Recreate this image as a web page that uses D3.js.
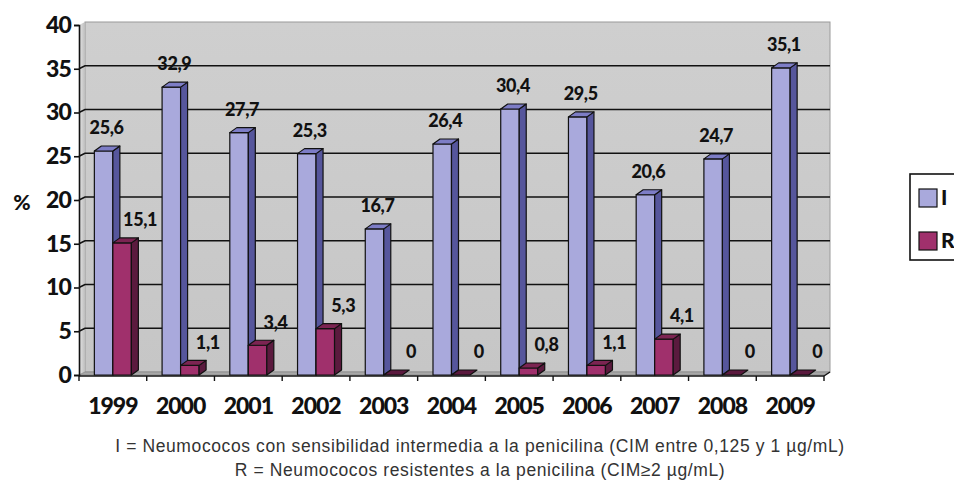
<!DOCTYPE html>
<html>
<head>
<meta charset="utf-8">
<script src="https://cdn.jsdelivr.net/npm/d3@7"></script>
<style>
  body { margin: 0; background: #fff; }
  svg { display: block; }
</style>
</head>
<body>
<svg id="chart" width="954" height="480"></svg>
<script>
const years = ['1999','2000','2001','2002','2003','2004','2005','2006','2007','2008','2009']
const seriesI = [25.6, 32.9, 27.7, 25.3, 16.7, 26.4, 30.4, 29.5, 20.6, 24.7, 35.1]
const seriesR = [15.1, 1.1, 3.4, 5.3, 0, 0, 0.8, 1.1, 4.1, 0, 0]
const yTicks = [0, 5, 10, 15, 20, 25, 30, 35, 40]
const seriesNames = ['I', 'R']
const notes = [
  'I = Neumococos con sensibilidad intermedia a la penicilina (CIM entre 0,125 y 1 µg/mL)',
  'R = Neumococos resistentes a la penicilina (CIM≥2 µg/mL)'
]

const svg = d3.select('#chart')
const bold = 'Lato, "Open Sans", sans-serif'

// plot frame
const x0 = 79, x1 = 824, yBase = 375, yTop = 25
const wallDx = 6, wallDy = -3   // back wall offset
const depthX = 7, depthY = -5   // bar depth

const x = d3.scaleBand().domain(years).range([x0, x1]).padding(0)
const xs = d3.scaleBand().domain(seriesNames).range([0, x.bandwidth()]).paddingOuter(0.83).paddingInner(0)
const y = d3.scaleLinear().domain([0, 40]).range([yBase, yTop])

const colors = {
  I: { front: '#a9a9dc', side: '#56569c', top: '#7d7dc6' },
  R: { front: '#a0306c', side: '#5b1a3e', top: '#7c2452' }
}

const defs = svg.append('defs')
const g1 = defs.append('linearGradient').attr('id', 'wall').attr('x1', 0).attr('x2', 0).attr('y1', 0).attr('y2', 1)
g1.append('stop').attr('offset', '0%').attr('stop-color', '#cfcfcf')
g1.append('stop').attr('offset', '100%').attr('stop-color', '#c6c6c6')
const g2 = defs.append('linearGradient').attr('id', 'side').attr('x1', 0).attr('x2', 1)
g2.append('stop').attr('offset', '0%').attr('stop-color', '#e6e6e6')
g2.append('stop').attr('offset', '100%').attr('stop-color', '#bdbdbd')

// back wall
svg.append('rect')
  .attr('x', x0 + wallDx).attr('y', y(40) + wallDy)
  .attr('width', x1 - x0).attr('height', yBase - y(40))
  .attr('fill', 'url(#wall)').attr('stroke', '#9a9a9a').attr('stroke-width', 1)

// side wall
svg.append('path')
  .attr('d', `M${x0},${y(40)}L${x0 + wallDx},${y(40) + wallDy}L${x0 + wallDx},${yBase + wallDy}L${x0},${yBase}Z`)
  .attr('fill', 'url(#side)')

// floor
svg.append('path')
  .attr('d', `M${x0},${yBase}L${x0 + wallDx},${yBase + wallDy}L${x1 + wallDx},${yBase + wallDy}L${x1},${yBase}Z`)
  .attr('fill', '#a8a8a8').attr('stroke', '#888').attr('stroke-width', 0.8)

// gridlines
const grid = svg.append('g')
yTicks.filter(t => t > 0 && t < 40).forEach(t => {
  grid.append('path')
    .attr('d', `M${x0},${y(t)}L${x0 + wallDx},${y(t) + wallDy}L${x1 + wallDx},${y(t) + wallDy}`)
    .attr('fill', 'none').attr('stroke', '#111').attr('stroke-width', 1.6)
})

// axes
const yAxis = svg.append('g').attr('transform', `translate(${x0},0)`)
  .call(d3.axisLeft(y).tickValues(yTicks).tickSize(5).tickPadding(3))
yAxis.select('.domain').attr('stroke', '#111').attr('stroke-width', 1.6)
yAxis.selectAll('.tick line').attr('stroke', '#111').attr('stroke-width', 1.6)
yAxis.selectAll('.tick text')
  .attr('font-family', bold).attr('font-weight', 900).attr('font-size', 23)
  .attr('letter-spacing', -0.8).attr('fill', '#111')

svg.append('text').attr('x', 22).attr('y', 203).attr('dy', '0.35em')
  .attr('text-anchor', 'middle').attr('font-family', bold).attr('font-weight', 900)
  .attr('font-size', 21).attr('fill', '#111').text('%')

const xAxis = svg.append('g').attr('transform', `translate(0,${yBase + 1})`)
xAxis.append('line').attr('x1', x0).attr('x2', x1).attr('stroke', '#111').attr('stroke-width', 1.6)
xAxis.append('path').attr('d', `M${x1},0L${x1 + wallDx},${wallDy - 1}`).attr('stroke', '#111').attr('stroke-width', 1.4)
xAxis.selectAll('.tk').data(years.concat(['end'])).enter().append('line')
  .attr('x1', (d, i) => x0 + i * x.step()).attr('x2', (d, i) => x0 + i * x.step())
  .attr('y1', 0).attr('y2', 5).attr('stroke', '#111').attr('stroke-width', 1.4)
xAxis.selectAll('.yr').data(years).enter().append('text')
  .attr('x', d => x(d) + x.bandwidth() / 2).attr('y', 38)
  .attr('text-anchor', 'middle').attr('font-family', bold).attr('font-weight', 900)
  .attr('font-size', 23).attr('fill', '#111').attr('letter-spacing', -1)
  .text(d => d)

// bars
const bars = svg.append('g')
const fmt = v => String(v).replace('.', ',')
years.forEach((yr, i) => {
  [['I', seriesI[i]], ['R', seriesR[i]]].forEach(([s, v]) => {
    const bx = x(yr) + xs(s), bw = xs.bandwidth()
    const top = y(v)
    const c = colors[s]
    const gb = bars.append('g').attr('stroke', '#111').attr('stroke-width', 1.2).attr('stroke-linejoin', 'round')
    if (v > 0) {
      gb.append('rect').attr('x', bx).attr('y', top).attr('width', bw).attr('height', yBase - top).attr('fill', c.front)
      gb.append('path')
        .attr('d', `M${bx + bw},${top}L${bx + bw + depthX},${top + depthY}L${bx + bw + depthX},${yBase + depthY}L${bx + bw},${yBase}Z`)
        .attr('fill', c.side)
    }
    gb.append('path')
      .attr('d', `M${bx},${top}L${bx + depthX},${top + depthY}L${bx + bw + depthX},${top + depthY}L${bx + bw},${top}Z`)
      .attr('fill', v > 0 ? c.top : c.side)

    const lx = s === 'I' ? bx + bw / 2 + 3 : bx + bw / 2 + 18
    bars.append('text').attr('x', lx).attr('y', top - 23).attr('dy', '0.35em')
      .attr('text-anchor', 'middle').attr('font-family', bold).attr('font-weight', 900)
      .attr('font-size', 18).attr('letter-spacing', -0.4).attr('fill', '#111').text(fmt(v))
  })
})

// legend
const lg = svg.append('g')
lg.append('rect').attr('x', 910).attr('y', 174).attr('width', 80).attr('height', 86)
  .attr('fill', '#fff').attr('stroke', '#111').attr('stroke-width', 1.6)
seriesNames.forEach((s, i) => {
  lg.append('rect').attr('x', 919).attr('y', 189 + i * 43).attr('width', 18).attr('height', 18)
    .attr('fill', colors[s].front).attr('stroke', '#111').attr('stroke-width', 1.2)
  lg.append('text').attr('x', 941).attr('y', 198 + i * 43).attr('dy', '0.35em')
    .attr('font-family', bold).attr('font-weight', 900).attr('font-size', 21).attr('fill', '#111').text(s)
})

// footnotes
svg.selectAll('.note').data(notes).enter().append('text')
  .attr('x', 480).attr('y', (d, i) => 446 + i * 24).attr('dy', '0.35em')
  .attr('text-anchor', 'middle').attr('font-family', '"Liberation Sans", Arial, sans-serif')
  .attr('font-size', 17.5).attr('letter-spacing', 0.6).attr('fill', '#333').text(d => d)
</script>
</body>
</html>
